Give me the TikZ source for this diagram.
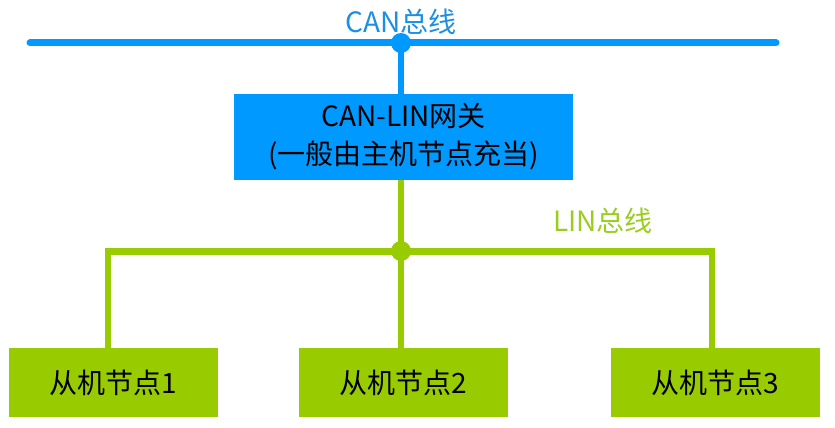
\documentclass[tikz,border=0pt]{standalone}
\usepackage{fontspec}
\setmainfont{Noto Sans CJK SC}
\newfontfamily\cjk{Noto Sans CJK SC}
\definecolor{canblue}{HTML}{0099FF}
\definecolor{canlbl}{HTML}{1A8FE3}
\definecolor{lingreen}{HTML}{99CC00}
\definecolor{linlbl}{HTML}{9ACD20}
\begin{document}
\begin{tikzpicture}[x=1pt,y=-1pt,
  gwbox/.style={draw=none,fill=canblue,minimum width=339pt,minimum height=86pt,inner sep=0pt,align=center,font=\cjk\fontsize{28}{38}\selectfont},
  slavebox/.style={draw=none,fill=lingreen,minimum width=209pt,minimum height=69pt,inner sep=0pt,font=\cjk\fontsize{28}{32}\selectfont},
  canline/.style={draw=canblue,line width=7pt,line cap=round},
  canstub/.style={draw=canblue,line width=6pt},
  linline/.style={draw=lingreen,line width=7pt},
  linstub/.style={draw=lingreen,line width=6pt},
  lbl/.style={font=\cjk\fontsize{28}{32}\selectfont,inner sep=0pt}
]
\useasboundingbox (0,0) rectangle (835,428);
% CAN bus
\coordinate (canL) at (30,43);
\coordinate (canR) at (776,43);
\coordinate (canJ) at (401,43);
\draw[canline] (canL) -- (canR);
\node[lbl,text=canlbl] (canlabel) at (401,22) {CAN总线};
% gateway
\node[gwbox] (gw) at (403.5,137) {CAN-LIN网关\\(一般由主机节点充当)};
\draw[canstub] (canJ) -- (gw.north -| canJ);
\fill[canblue] (canJ) circle (10);
% LIN bus
\coordinate (linJ) at (401,251);
\coordinate (linL) at (108,251);
\coordinate (linR) at (712,251);
\node[slavebox] (s1) at (113.5,382.5) {从机节点1};
\node[slavebox] (s2) at (403,382.5) {从机节点2};
\node[slavebox] (s3) at (715,382.5) {从机节点3};
\draw[linstub] (gw.south -| linJ) -- (linJ);
\draw[linline] ([xshift=-3pt]linL) -- ([xshift=3pt]linR);
\draw[linstub] ([yshift=-3.5pt]linL) -- (s1.north -| linL);
\draw[linstub] (linJ) -- (s2.north -| linJ);
\draw[linstub] ([yshift=-3.5pt]linR) -- (s3.north -| linR);
\fill[lingreen] (linJ) circle (10);
\node[lbl,text=linlbl] (linlabel) at (603,221) {LIN总线};
\end{tikzpicture}
\end{document}
